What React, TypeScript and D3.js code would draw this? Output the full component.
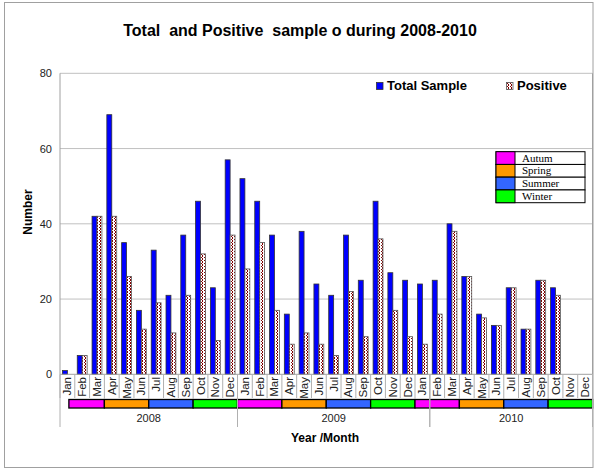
import React from "react";
import * as d3 from "d3";

const months = ["Jan","Feb","Mar","Apr","May","Jun","Jul","Aug","Sep","Oct","Nov","Dec"];
const years = ["2008", "2009", "2010"];
const totalSample = [1,5,42,69,35,17,33,21,37,46,23,57, 52,46,37,16,38,24,21,37,25,46,27,25, 24,25,40,26,16,13,23,12,25,23,0,0];
const positive = [0,5,42,42,26,12,19,11,21,32,9,37, 28,35,17,8,11,8,5,22,10,36,17,10, 8,16,38,26,15,13,23,12,25,21,0,0];
const yTicks = [0, 20, 40, 60, 80];
// season strip segments: [season, start month index, end month index]
const seasonSegments: [string, number, number][] = [
  ["Autum", 0.6, 3], ["Spring", 3, 6], ["Summer", 6, 9], ["Winter", 9, 12],
  ["Autum", 12, 15], ["Spring", 15, 18], ["Summer", 18, 21], ["Winter", 21, 24],
  ["Autum", 24, 27], ["Spring", 27, 30], ["Summer", 30, 33], ["Winter", 33, 36],
];
// year groups: [label, start month index, end month index]
const yearGroups: [string, number, number][] = [["2008", 0, 12], ["2009", 12, 25], ["2010", 25, 36]];
const seasonNames = ["Autum", "Spring", "Summer", "Winter"];
const seasonColors = ["#ff00ff", "#ff9900", "#3366ff", "#00ff00"];

export default function App() {
  const W = 600, H = 475;
  const left = 60, right = 592.5, top = 73.3, bottom = 374.3;
  const keys = years.flatMap((y) => months.map((m) => `${y}-${m}`));
  const x = d3.scaleBand<string>().domain(keys).range([left, right]).padding(0);
  const bw = x.bandwidth();
  const xi = d3.scaleLinear().domain([0, 36]).range([left, right]);
  const inner = d3.scaleBand<string>().domain(["total", "positive"]).range([0, bw]).paddingInner(0).paddingOuter(0.5);
  const y = d3.scaleLinear().domain([0, 80]).range([bottom, top]);
  const sColor = d3.scaleOrdinal<string, string>().domain(seasonNames).range(seasonColors);
  const font = "Arial, 'Liberation Sans', sans-serif";

  return (
    <svg width={W} height={H} style={{ position: "absolute", left: 0, top: 0 }} fontFamily={font}>
      <defs>
        <pattern id="pos" width="3" height="3" patternUnits="userSpaceOnUse">
          <rect width="3" height="3" fill="#ffffff" />
          <rect x="1" y="0" width="1" height="2" fill="#800000" />
          <rect x="0" y="2" width="1" height="1" fill="#800000" />
        </pattern>
      </defs>
      <rect x={0} y={0} width={W} height={H} fill="#fff" />
      <rect x={4.5} y={2.5} width={588.5} height={465} fill="none" stroke="#a0a0a0" strokeWidth={1} />
      <text x={300} y={36} textAnchor="middle" fontWeight="bold" fontSize={16} fill="#000" style={{ whiteSpace: "pre" }}>
        {"Total  and Positive  sample o during 2008-2010"}
      </text>
      {yTicks.map((t) => (
        <g key={t}>
          {t > 0 && <line x1={left} x2={right} y1={y(t)} y2={y(t)} stroke="#c0c0c0" strokeWidth={1} />}
          <text x={52} y={y(t) + 4} textAnchor="end" fontSize={11} fill="#222">{t}</text>
        </g>
      ))}
      <line x1={left} x2={left} y1={top} y2={bottom} stroke="#a0a0a0" />
      <line x1={right} x2={right} y1={top} y2={bottom} stroke="#a0a0a0" />
      {keys.map((k, i) => (
        <g key={k}>
          {totalSample[i] > 0 && (
            <rect x={(x(k) as number) + (inner("total") as number)} y={y(totalSample[i])} width={inner.bandwidth()}
              height={bottom - y(totalSample[i])} fill="#0000ff" stroke="#333" strokeWidth={0.8} />
          )}
          {positive[i] > 0 && (
            <rect x={(x(k) as number) + (inner("positive") as number)} y={y(positive[i])} width={inner.bandwidth()}
              height={bottom - y(positive[i])} fill="url(#pos)" stroke="#555" strokeWidth={0.8} />
          )}
        </g>
      ))}
      <line x1={left} x2={right} y1={bottom} y2={bottom} stroke="#a0a0a0" />
      {keys.map((k, i) => (
        <g key={"m" + k}>
          <line x1={xi(i)} x2={xi(i)} y1={bottom} y2={398} stroke="#b0b0b0" />
          <text transform={`translate(${(x(k) as number) + bw / 2 + 4},${377}) rotate(-90)`} textAnchor="end" fontSize={11.5} fill="#222">
            {months[i % 12]}
          </text>
        </g>
      ))}
      {seasonSegments.map(([s, a, b], i) => (
        <rect key={"s" + i} x={xi(a)} y={399.5} width={xi(b) - xi(a)} height={8.5} fill={sColor(s)} stroke="#000" strokeWidth={1.3} />
      ))}
      {yearGroups.map(([lab, a, b]) => (
        <g key={lab}>
          <line x1={xi(a)} x2={xi(a)} y1={bottom} y2={427} stroke="#b0b0b0" />
          <line x1={xi(b)} x2={xi(b)} y1={bottom} y2={427} stroke="#b0b0b0" />
          <text x={(xi(a) + xi(b)) / 2} y={422} textAnchor="middle" fontSize={11} fill="#222">{lab}</text>
        </g>
      ))}
      <text x={325} y={442} textAnchor="middle" fontWeight="bold" fontSize={12} fill="#000">Year /Month</text>
      <text transform={`translate(32,212) rotate(-90)`} textAnchor="middle" fontWeight="bold" fontSize={12} fill="#000">Number</text>
      <rect x={376.5} y={82.5} width={6.5} height={7} fill="#0000ff" stroke="#333" strokeWidth={0.8} />
      <text x={387} y={90} fontWeight="bold" fontSize={13} fill="#000">Total Sample</text>
      <rect x={506.5} y={82.5} width={6.5} height={7} fill="url(#pos)" stroke="#555" strokeWidth={0.8} />
      <text x={517} y={90} fontWeight="bold" fontSize={13} fill="#000">Positive</text>
      {seasonNames.map((s, i) => {
        const ry = 151.7 + i * 12.75;
        return (
          <g key={"l" + s}>
            <rect x={496} y={ry} width={89} height={12.75} fill="#fff" stroke="#000" strokeWidth={1} />
            <rect x={496} y={ry} width={19} height={12.75} fill={sColor(s)} stroke="#000" strokeWidth={1} />
            <text x={522} y={ry + 10} fontSize={11} fontFamily="'Liberation Serif', 'Times New Roman', serif" fill="#000">{s}</text>
          </g>
        );
      })}
    </svg>
  );
}
